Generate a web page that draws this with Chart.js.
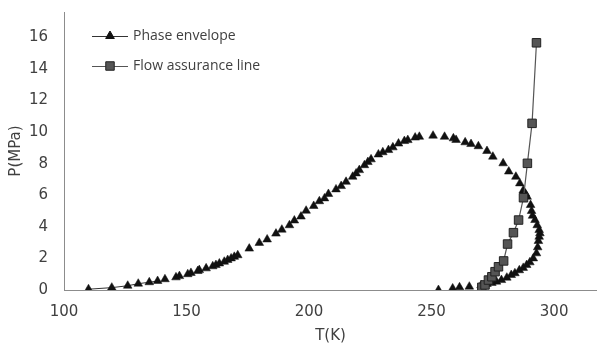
<!DOCTYPE html>
<html>
<head>
<meta charset="utf-8">
<script src="https://cdn.jsdelivr.net/npm/chart.js@4/dist/chart.umd.min.js"></script>
<style>
html,body{margin:0;padding:0;background:#fff;}
canvas{display:block;}
</style>
</head>
<body>
<canvas id="c" width="597" height="345"></canvas>
<script>
// Phase envelope (T in K, P in MPa)
const phaseT = [110,119.5,126,130.3,134.8,138.2,141.2,145.7,147.1,150.5,151.8,154.6,155.2,158,160.7,162,163.4,165.4,166.8,168.2,169.5,170.9,175.6,179.7,182.9,186.5,188.9,192,194,196.7,198.8,201.9,204.2,206.3,207.9,211,213.1,215.1,217.8,219.2,220.5,222.6,224,225.3,228.3,230.1,232.4,234.2,236.5,238.9,240.3,243.3,245,250.6,255.3,258.9,260,263.7,266.1,269.1,272.6,275,279.2,281.5,284.4,286,287.4,288.3,289,290.4,290.8,291.2,292.2,293.1,293.9,294.2,293.9,293.6,293.3,292.8,291.5,290.1,288.8,287.4,285.8,284,282.5,280.7,278.5,276.5,274.6,272.6,270.2,265.4,261.4,258.6,252.8];
const phaseP = [0.05,0.15,0.27,0.4,0.49,0.57,0.68,0.8,0.88,1.0,1.08,1.2,1.26,1.37,1.5,1.58,1.68,1.79,1.9,2.0,2.1,2.2,2.62,2.98,3.2,3.57,3.82,4.1,4.4,4.65,5.02,5.32,5.62,5.8,6.08,6.37,6.58,6.85,7.17,7.38,7.59,7.9,8.1,8.27,8.58,8.72,8.86,9.03,9.27,9.43,9.49,9.65,9.7,9.77,9.7,9.6,9.5,9.35,9.24,9.1,8.8,8.44,8.02,7.5,7.17,6.75,6.3,6.1,5.9,5.38,5.0,4.7,4.43,4.1,3.8,3.59,3.37,3.1,2.7,2.32,2.0,1.75,1.58,1.4,1.25,1.06,0.95,0.78,0.63,0.53,0.45,0.38,0.3,0.21,0.17,0.1,0.0];
// Flow assurance line
const flowT = [270.5,271.8,273.2,274.6,275.9,277.3,279.4,281,283.4,285.5,287.5,289.1,291,292.8];
const flowP = [0.17,0.32,0.63,0.84,1.16,1.47,1.84,2.91,3.63,4.43,5.84,8.02,10.55,15.65];
const seriesNames = ['Phase envelope','Flow assurance line'];
const xTickStep = 50, yTickStep = 2;

const toPts = (xs, ys) => xs.map((x,i)=>({x:x,y:ys[i]}));

const legendPlugin = {
  id:'excelLegend',
  afterDraw(chart){
    const ctx = chart.ctx;
    const ds = chart.data.datasets;
    ctx.save();
    ds.forEach((d,i)=>{
      const y = 36 + 30*i;
      ctx.strokeStyle = d.legendLine;
      ctx.lineWidth = 1;
      ctx.beginPath(); ctx.moveTo(92,y+0.5); ctx.lineTo(128,y+0.5); ctx.stroke();
      ctx.fillStyle = d.pointBackgroundColor;
      ctx.strokeStyle = d.pointBorderColor;
      Chart.helpers.drawPoint(ctx,{pointStyle:d.pointStyle,radius:d.pointRadius,rotation:0,borderWidth:d.pointBorderWidth},110,y);
      ctx.fillStyle = '#404040';
      ctx.font = '14px "Open Sans"';
      ctx.textBaseline = 'middle';
      ctx.textAlign = 'left';
      ctx.fillText(d.label,133,y);
    });
    ctx.restore();
  }
};

new Chart(document.getElementById('c'),{
  type:'scatter',
  data:{datasets:[
    {label:seriesNames[0],data:toPts(phaseT,phaseP),showLine:true,borderWidth:1,
     borderColor:'#333',legendLine:'#333',
     segment:{borderColor:c=>c.p1.parsed.x<140?'#333':'rgba(0,0,0,0)'},
     pointStyle:'triangle',pointRadius:5,pointBackgroundColor:'#111',pointBorderColor:'#111',pointBorderWidth:0.5,order:1},
    {label:seriesNames[1],data:toPts(flowT,flowP),showLine:true,borderWidth:1.2,
     borderColor:'#555',legendLine:'#555',
     pointStyle:'rect',pointRadius:6,pointBackgroundColor:'#555',pointBorderColor:'#222',pointBorderWidth:1,order:0}
  ]},
  options:{
    responsive:false,animation:false,devicePixelRatio:1,
    layout:{autoPadding:false,padding:{top:12,right:0,left:0,bottom:0}},
    plugins:{legend:{display:false},tooltip:{enabled:false}},
    scales:{
      x:{type:'linear',min:100,max:317.5,
        afterFit(s){s.height=55;s.paddingLeft=0;s.paddingRight=0;},
        grid:{display:false,drawTicks:false},
        border:{display:true,color:'#8c8c8c',width:1},
        ticks:{stepSize:xTickStep,includeBounds:false,padding:13,color:'#404040',font:{family:'DejaVu Sans',size:15}},
        title:{display:true,text:'T(K)',color:'#404040',font:{family:'DejaVu Sans',size:15},padding:{top:0,bottom:0}}},
      y:{type:'linear',min:0,max:17.6,
        afterFit(s){s.width=64;s.paddingTop=0;s.paddingBottom=0;},
        grid:{display:false,drawTicks:false},
        border:{display:true,color:'#8c8c8c',width:1},
        ticks:{stepSize:yTickStep,includeBounds:false,padding:16,color:'#404040',font:{family:'DejaVu Sans',size:15}},
        title:{display:true,text:'P(MPa)',color:'#404040',font:{family:'DejaVu Sans',size:15},padding:{top:7,bottom:7}}}
    }
  },
  plugins:[legendPlugin]
});
</script>
</body>
</html>
